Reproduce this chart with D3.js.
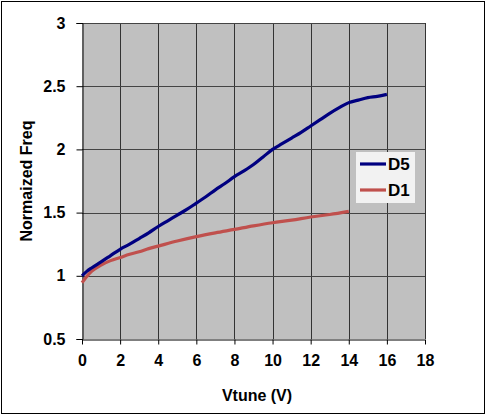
<!DOCTYPE html>
<html>
<head>
<meta charset="utf-8">
<script src="https://cdn.jsdelivr.net/npm/d3@7"></script>
<style>
  html, body { margin: 0; padding: 0; background: #fff; }
  svg { display: block; }
  text { font-family: Arial, "Liberation Sans", sans-serif; font-weight: bold; fill: #000; }
</style>
</head>
<body>
<svg id="chart" width="486" height="416"></svg>
<script>
const xTicks = [0, 2, 4, 6, 8, 10, 12, 14, 16, 18];
const yTicks = [0.5, 1, 1.5, 2, 2.5, 3];
const seriesNames = ["D5", "D1"];
const seriesColors = ["#000080", "#c0504d"];

const d5V = [0, 0.25, 0.5, 1, 1.5, 2, 2.5, 3, 3.5, 4, 4.5, 5, 5.5, 6, 6.5, 7, 7.5, 8, 8.5, 9, 9.5, 10, 10.5, 11, 11.5, 12, 12.5, 13, 13.5, 14, 14.5, 15, 15.5, 16];
const d5F = [1.00, 1.035, 1.062, 1.11, 1.16, 1.21, 1.25, 1.295, 1.34, 1.39, 1.435, 1.48, 1.525, 1.575, 1.625, 1.68, 1.73, 1.785, 1.83, 1.88, 1.94, 2.00, 2.045, 2.09, 2.135, 2.185, 2.235, 2.285, 2.33, 2.37, 2.39, 2.41, 2.42, 2.435];

const d1V = [0, 0.25, 0.5, 1, 1.5, 2, 2.5, 3, 3.5, 4, 5, 6, 7, 8, 9, 10, 11, 12, 13, 14];
const d1F = [0.945, 0.995, 1.035, 1.085, 1.12, 1.145, 1.17, 1.19, 1.215, 1.235, 1.275, 1.31, 1.34, 1.367, 1.395, 1.42, 1.44, 1.465, 1.485, 1.51];

const svg = d3.select("#chart");
const L = 82, R = 425, T = 23, B = 339;

// outer frame
svg.append("rect").attr("x", 1.5).attr("y", 1.5).attr("width", 483).attr("height", 412)
  .attr("fill", "#fff").attr("stroke", "#000").attr("stroke-width", 1);

const x = d3.scaleLinear().domain([0, 18]).range([L, R]);
const y = d3.scaleLinear().domain([0.5, 3]).range([B, T]);

// plot background
svg.append("rect").attr("x", L).attr("y", T).attr("width", R - L).attr("height", B - T)
  .attr("fill", "#c0c0c0");

// gridlines
const g = svg.append("g");
g.selectAll(".vg").data(xTicks.slice(1)).enter().append("line")
  .attr("x1", d => Math.round(x(d)) + 0.5).attr("x2", d => Math.round(x(d)) + 0.5)
  .attr("y1", T).attr("y2", B).attr("stroke", "#333").attr("stroke-width", 1);
g.selectAll(".hg").data(yTicks.slice(1)).enter().append("line")
  .attr("y1", d => Math.round(y(d)) + 0.5).attr("y2", d => Math.round(y(d)) + 0.5)
  .attr("x1", L).attr("x2", R).attr("stroke", "#444").attr("stroke-width", 1);

// axes
const xAxis = d3.axisBottom(x).tickValues(xTicks).tickSize(5).tickPadding(10).tickFormat(d3.format("d"));
const yAxis = d3.axisLeft(y).tickValues(yTicks).tickSize(6).tickPadding(11).tickFormat(d => d);

const gx = svg.append("g").attr("transform", `translate(0,${B + 0.5})`).call(xAxis);
const gy = svg.append("g").attr("transform", `translate(${L + 0.5},0)`).call(yAxis);
[gx, gy].forEach(a => {
  a.select(".domain").attr("stroke", "#000");
  a.selectAll(".tick line").attr("stroke", "#000");
  a.selectAll("text").style("font-size", "16px").style("font-weight", "bold")
    .style("font-family", "Arial, 'Liberation Sans', sans-serif").attr("fill", "#000");
});
gx.select(".domain").attr("d", `M${L},0.5H${R}`);

// lines
const line = d3.line().x(d => x(d[0])).y(d => y(d[1])).curve(d3.curveMonotoneX);
const d5 = d5V.map((v, i) => [v, d5F[i]]);
const d1 = d1V.map((v, i) => [v, d1F[i]]);
svg.append("path").datum(d1).attr("d", line).attr("fill", "none")
  .attr("stroke", seriesColors[1]).attr("stroke-width", 3.2);
svg.append("path").datum(d5).attr("d", line).attr("fill", "none")
  .attr("stroke", seriesColors[0]).attr("stroke-width", 3.2);

// titles
svg.append("text").attr("x", 257).attr("y", 401).attr("text-anchor", "middle")
  .style("font-size", "16px").text("Vtune (V)");
svg.append("text").attr("transform", "translate(32,181) rotate(-90)").attr("text-anchor", "middle")
  .style("font-size", "16px").text("Normaized Freq");

// legend
const lg = svg.append("g");
lg.append("rect").attr("x", 356).attr("y", 152).attr("width", 59).attr("height", 51).attr("fill", "#f2f2f2");
seriesNames.forEach((n, i) => {
  const yy = 164 + i * 26;
  lg.append("line").attr("x1", 360).attr("x2", 386).attr("y1", yy).attr("y2", yy)
    .attr("stroke", seriesColors[i]).attr("stroke-width", 3.2);
  lg.append("text").attr("x", 388).attr("y", yy + 6).style("font-size", "17px").text(n);
});
</script>
</body>
</html>
